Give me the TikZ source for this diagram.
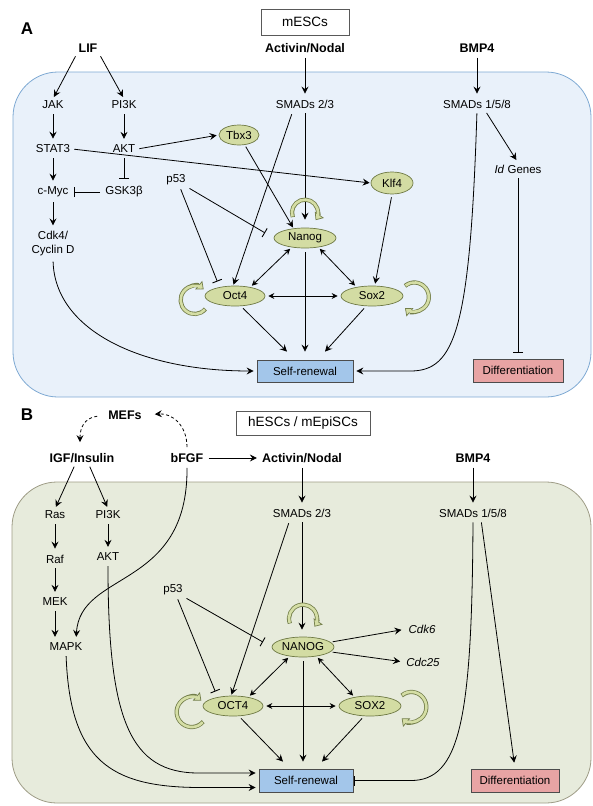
\documentclass[tikz,border=0pt]{standalone}
\usepackage{fontspec}
\setmainfont{Liberation Sans}
\usetikzlibrary{arrows.meta,shapes.geometric,calc}
\definecolor{bluefill}{HTML}{E9F1FA}
\definecolor{blueline}{HTML}{7EA9D3}
\definecolor{greenfill}{HTML}{E7EBDC}
\definecolor{greenline}{HTML}{9E9C86}
\definecolor{tffill}{HTML}{D3DCA3}
\definecolor{tfline}{HTML}{6E7944}
\definecolor{srfill}{HTML}{A3C6EA}
\definecolor{diffill}{HTML}{E8A4A4}
\definecolor{loopin}{HTML}{D5DEA5}
\definecolor{loopout}{HTML}{737E4A}
\newcommand\fbloop[4]{%
  \draw[line width=4.2pt, loopout, -{Triangle[width=11pt,length=6.5pt,fill=loopin,line width=0.7pt]}]
    ([shift={(#3:#2)}]#1) arc[start angle=#3, end angle=#4, radius=#2];
  \draw[line width=2.6pt, loopin, shorten >=3pt, shorten <=0.7pt]
    ([shift={(#3:#2)}]#1) arc[start angle=#3, end angle=#4, radius=#2];
}
\begin{document}
\begin{tikzpicture}[x=1pt,y=-1pt,
  lab/.style={font=\fontsize{11.5}{14}\selectfont, inner sep=2pt},
  blab/.style={font=\bfseries\fontsize{12.5}{15}\selectfont, inner sep=2pt},
  plab/.style={font=\bfseries\fontsize{17}{17}\selectfont, inner sep=0pt},
  title/.style={draw=black!65, fill=white, line width=0.8pt, inner sep=0pt, font=\fontsize{13.5}{15}\selectfont},
  tf/.style={ellipse, draw=tfline, fill=tffill, line width=0.7pt, minimum width=60pt, minimum height=20pt, inner sep=0pt, font=\fontsize{11.5}{14}\selectfont},
  arr/.style={-{Stealth[length=7pt,width=7pt,inset=2.5pt]}, line width=0.8pt},
  darr/.style={{Stealth[length=6pt,width=6pt,inset=2pt]}-{Stealth[length=6pt,width=6pt,inset=2pt]}, line width=0.8pt},
  inh/.style={-{Bar[width=10pt,line width=0.9pt]}, line width=0.8pt},
  dasharr/.style={arr, dash pattern=on 3pt off 2.5pt},
  outbox/.style={draw=black!70, fill=srfill, line width=0.8pt, minimum width=96pt, minimum height=22pt, inner sep=0pt, font=\fontsize{11.5}{14}\selectfont},
  vs/.style={shorten <=3pt, shorten >=4pt},
]
\useasboundingbox (0,0) rectangle (593,806);

% ---------------- panel backgrounds
\draw[fill=bluefill, draw=blueline, line width=0.8pt, rounded corners=45pt] (13,72) rectangle (591,397);
\draw[fill=greenfill, draw=greenline, line width=0.8pt, rounded corners=45pt] (12,482) rectangle (591,803);

% ================= PANEL A =================
\node[plab] (labA) at (27,29) {A};
\node[title, minimum width=88pt, minimum height=26pt] (titA) at (305,22) {mESCs};
\node[blab] (lif) at (88,48) {LIF};
\node[blab] (actA) at (305,48) {Activin/Nodal};
\node[blab] (bmpA) at (477,48) {BMP4};
\node[lab] (jak) at (53,105) {JAK};
\node[lab] (pi3kA) at (124,105) {PI3K};
\node[lab] (stat3) at (53,149) {STAT3};
\node[lab] (aktA) at (124,149) {AKT};
\node[lab] (cmyc) at (53,192) {c-Myc};
\node[lab] (gsk) at (124,192) {GSK3β};
\node[lab, align=center] (cdk4) at (53,244) {Cdk4/\\Cyclin D};
\node[lab] (smadA) at (305,104) {SMADs 2/3};
\node[lab] (smad158A) at (477,104) {SMADs 1/5/8};
\node[lab] (idg) at (518,169) {\textit{Id} Genes};
\node[lab] (p53A) at (176,180) {p53};
\node[tf, minimum width=40pt] (tbx3) at (239,135) {Tbx3};
\node[tf, minimum width=42pt, minimum height=22pt] (klf4) at (392,183) {Klf4};
\node[tf, minimum width=62pt] (nanogA) at (305,238) {Nanog};
\node[tf] (oct4A) at (235,296) {Oct4};
\node[tf, minimum width=62pt] (sox2A) at (372,296) {Sox2};
\node[outbox] (srA) at (305,371) {Self-renewal};
\node[outbox, fill=diffill, minimum width=90pt, minimum height=23pt] (difA) at (518,370.5) {Differentiation};

\coordinate (nlA) at ($(nanogA.north)+(0,-15)$);
\coordinate (olA) at ($(oct4A.west)+(-10,4)$);
\coordinate (slA) at ($(sox2A.east)+(11,1)$);

\draw[arr, shorten <=2pt, shorten >=2pt] (lif.south west) -- (jak.north);
\draw[arr, shorten <=2pt, shorten >=2pt] (lif.south east) -- (pi3kA.north);
\draw[arr, vs] (jak) -- (stat3);
\draw[arr, vs] (stat3) -- (cmyc);
\draw[arr, vs] (cmyc) -- (cdk4);
\draw[arr, vs] (pi3kA) -- (aktA);
\draw[inh, shorten <=3pt, shorten >=6pt] (aktA) -- (gsk);
\draw[inh, shorten <=3pt, shorten >=3pt] (gsk) -- (cmyc);
\draw[arr, shorten <=2pt, shorten >=2pt] (aktA.east) -- (tbx3.west);
\draw[arr, shorten <=2pt, shorten >=1pt] (stat3.east) -- (klf4.west);
\draw[arr, vs] (actA) -- (smadA);
\draw[arr, vs] (bmpA) -- (smad158A);
\draw[arr, shorten <=3pt, shorten >=8pt] (smadA) -- (nanogA);
\draw[arr, shorten <=4pt, shorten >=1pt] ([xshift=-12pt]smadA.south) -- (oct4A.100);
\draw[arr, shorten <=2pt, shorten >=1pt] (tbx3.-60) -- (nanogA.140);
\draw[inh, shorten <=2pt, shorten >=10pt] (p53A.south east) -- (nanogA.west);
\draw[inh, shorten <=2pt, shorten >=6pt] ([xshift=4pt]p53A.south) -- (oct4A.150);
\draw[darr, shorten <=2pt, shorten >=2pt] (nanogA.215) -- (oct4A.30);
\draw[darr, shorten <=2pt, shorten >=2pt] (nanogA.-35) -- (sox2A.150);
\draw[darr, shorten <=3pt, shorten >=3pt] (oct4A.east) -- (sox2A.west);
\draw[arr, shorten <=3pt, shorten >=2pt] (klf4.south) -- (sox2A.75);
\draw[arr, shorten <=4pt] (nanogA.south) -- ([yshift=8pt]srA.north);
\draw[arr, shorten <=3pt] (oct4A.-60) -- ([xshift=-18pt,yshift=8pt]srA.north);
\draw[arr, shorten <=3pt] (sox2A.-120) -- ([xshift=20pt,yshift=8pt]srA.north);
\draw[arr, shorten <=3pt, shorten >=3pt] (cdk4.south) .. controls (55,330) and (140,371) .. (srA.west);
\draw[arr, shorten <=3pt, shorten >=3pt] (smad158A.south) .. controls (470,330) and (455,371) .. ($(srA.east)+(57,0)$) -- (srA.east);
\draw[arr, shorten <=3pt, shorten >=3pt] ([xshift=8pt]smad158A.south) -- (idg.north);
\draw[inh, shorten <=3pt, shorten >=6pt] (idg.south) -- (difA.north);

\fbloop{nlA}{13pt}{200}{-35}
\fbloop{olA}{14pt}{-40}{-310}
\fbloop{slA}{14.5pt}{130}{-130}

% ================= PANEL B =================
\node[plab] (labB) at (27,415) {B};
\node[title, minimum width=134pt, minimum height=24pt] (titB) at (303,423) {hESCs / mEpiSCs};
\node[blab] (mefs) at (125,415) {MEFs};
\node[blab] (igf) at (82,458) {IGF/Insulin};
\node[blab] (bfgf) at (187,458) {bFGF};
\node[blab] (actB) at (302,458) {Activin/Nodal};
\node[blab] (bmpB) at (473,458) {BMP4};
\node[lab] (ras) at (55,515) {Ras};
\node[lab] (pi3kB) at (108,515) {PI3K};
\node[lab] (raf) at (55,559) {Raf};
\node[lab] (aktB) at (108,557) {AKT};
\node[lab] (mek) at (55,602) {MEK};
\node[lab] (mapk) at (66,647) {MAPK};
\node[lab] (smadB) at (302,513) {SMADs 2/3};
\node[lab] (smad158B) at (473,513) {SMADs 1/5/8};
\node[lab] (p53B) at (173,590) {p53};
\node[tf, minimum width=62pt] (nanogB) at (303,647) {NANOG};
\node[tf] (oct4B) at (233,706) {OCT4};
\node[tf, minimum width=62pt] (sox2B) at (370,706) {SOX2};
\node[lab] (cdk6) at (422,629) {\textit{Cdk6}};
\node[lab] (cdc25) at (423,662) {\textit{Cdc25}};
\node[outbox, minimum width=94pt, minimum height=23pt] (srB) at (306,780.5) {Self-renewal};
\node[outbox, fill=diffill, minimum width=88pt, minimum height=23pt] (difB) at (515,780.5) {Differentiation};

\coordinate (nlB) at ($(nanogB.north)+(0,-18)$);
\coordinate (olB) at ($(oct4B.west)+(-11,6)$);
\coordinate (slB) at ($(sox2B.east)+(10,1)$);

\draw[dasharr, shorten <=9pt, shorten >=2pt] (mefs.west) .. controls (84,418) and (80,428) .. ($(igf.north)+(-2,-7)$);
\draw[dasharr, shorten <=4pt, shorten >=11pt] (bfgf.north) .. controls (187,425) and (172,413) .. (mefs.east);
\draw[arr, shorten <=2pt, shorten >=2pt] ([xshift=-7pt]igf.south) -- (ras.north);
\draw[arr, shorten <=2pt, shorten >=2pt] ([xshift=7pt]igf.south) -- (pi3kB.north);
\draw[arr, shorten <=3pt, shorten >=3pt] (bfgf.east) -- (actB.west);
\draw[arr, vs] (ras) -- (raf);
\draw[arr, vs] (raf) -- (mek);
\draw[arr, vs] (mek.south) -- (mek.south |- mapk.north);
\draw[arr, vs] (pi3kB) -- (aktB);
\draw[arr, vs] (actB) -- (smadB);
\draw[arr, vs] (bmpB) -- (smad158B);
\draw[arr, shorten <=3pt, shorten >=4pt] (bfgf.south) .. controls (188,590) and (80,570) .. ([xshift=10pt]mapk.north);
\draw[arr, shorten <=3pt, shorten >=3pt] (aktB.south) .. controls (108,720) and (130,773) .. ($(srB.west)+(-60,-7.5)$) -- ([yshift=7.5pt]srB.west);
\draw[arr, shorten <=3pt, shorten >=3pt] (mapk.south) .. controls (70,760) and (110,787) .. ($(srB.west)+(-60,7)$) -- ([yshift=-7pt]srB.west);
\draw[arr, shorten <=3pt, shorten >=7pt] (smadB.south) -- (smadB.south |- nanogB.north);
\draw[arr, shorten <=4pt, shorten >=1pt] ([xshift=-12pt]smadB.south) -- (oct4B.100);
\draw[inh, shorten <=2pt, shorten >=10pt] (p53B.south east) -- (nanogB.west);
\draw[inh, shorten <=2pt, shorten >=6pt] ([xshift=4pt]p53B.south) -- (oct4B.150);
\draw[darr, shorten <=2pt, shorten >=2pt] (nanogB.215) -- (oct4B.30);
\draw[darr, shorten <=2pt, shorten >=2pt] (nanogB.-35) -- (sox2B.150);
\draw[darr, shorten <=3pt, shorten >=3pt] (oct4B.east) -- (sox2B.west);
\draw[arr, shorten <=2pt, shorten >=5pt] (nanogB.10) -- (cdk6.west);
\draw[arr, shorten <=2pt, shorten >=4pt] (nanogB.-10) -- (cdc25.west);
\draw[arr, shorten <=4pt, shorten >=7pt] (nanogB.south) -- (nanogB.south |- srB.north);
\draw[arr, shorten <=3pt] (oct4B.-60) -- ([xshift=-23pt,yshift=7pt]srB.north);
\draw[arr, shorten <=3pt] (sox2B.-120) -- ([xshift=16pt,yshift=7pt]srB.north);
\draw[arr, shorten <=3pt, shorten >=6pt] ([xshift=8pt]smad158B.south) -- (difB.north);
\draw[inh, shorten <=3pt, shorten >=1pt] (smad158B.south) .. controls (472,720) and (460,781) .. ($(srB.east)+(57,0)$) -- (srB.east);

\fbloop{nlB}{14pt}{200}{-35}
\fbloop{olB}{15pt}{-40}{-310}
\fbloop{slB}{15pt}{130}{-130}
\end{tikzpicture}
\end{document}
